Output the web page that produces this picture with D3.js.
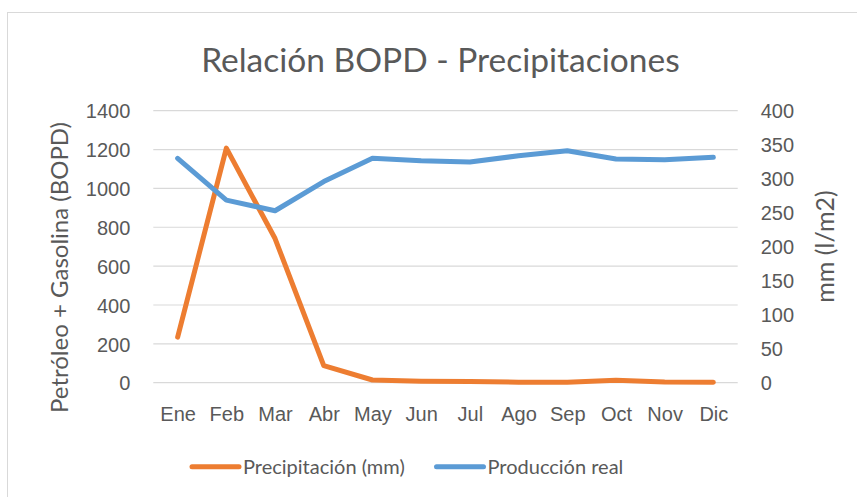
<!DOCTYPE html>
<html>
<head>
<meta charset="utf-8">
<script src="https://cdn.jsdelivr.net/npm/d3@7"></script>
<style>
  html, body { margin: 0; padding: 0; background: #fff; }
  svg { display: block; font-family: Lato, "Open Sans", sans-serif; }
</style>
</head>
<body>
<svg id="chart" width="857" height="497"></svg>
<script>
// chart data
const months = ["Ene", "Feb", "Mar", "Abr", "May", "Jun", "Jul", "Ago", "Sep", "Oct", "Nov", "Dic"];
const produccion = [1155, 940, 885, 1035, 1155, 1142, 1136, 1168, 1194, 1151, 1148, 1160];
const precipitacion = [67, 345, 212, 25, 4, 2.2, 1.8, 0.7, 0.7, 3.7, 1.2, 0.7];
const leftTicks = [0, 200, 400, 600, 800, 1000, 1200, 1400];
const rightTicks = [0, 50, 100, 150, 200, 250, 300, 350, 400];

const svg = d3.select("#chart");
const textColor = "#595959";
const orange = "#ED7D31", blue = "#5B9BD5";

const plotLeft = 153.3, plotRight = 737.7, plotTop = 110.7, plotBottom = 382.7;

// outer border of the chart area
svg.append("rect")
  .attr("x", 7.5).attr("y", 12.5)
  .attr("width", 900).attr("height", 600)
  .attr("fill", "none")
  .attr("stroke", "#d9d9d9")
  .attr("stroke-width", 1);

const x = d3.scalePoint().domain(months).range([plotLeft, plotRight]).padding(0.5);
const yL = d3.scaleLinear().domain([0, 1400]).range([plotBottom, plotTop]);
const yR = d3.scaleLinear().domain([0, 400]).range([plotBottom, plotTop]);

// gridlines
svg.append("g")
  .selectAll("line")
  .data(leftTicks)
  .join("line")
  .attr("x1", plotLeft).attr("x2", plotRight)
  .attr("y1", d => yL(d)).attr("y2", d => yL(d))
  .attr("stroke", "#d9d9d9")
  .attr("stroke-width", 1.2);

// left axis
const axL = svg.append("g")
  .attr("transform", `translate(${plotLeft - 23},0)`)
  .call(d3.axisLeft(yL).tickValues(leftTicks).tickFormat(d3.format("d")).tickSize(0).tickPadding(0));
axL.select(".domain").remove();
axL.selectAll("text").attr("fill", textColor).style("font-size", "20px").attr("dy", "0.36em");

// right axis
const axR = svg.append("g")
  .attr("transform", `translate(${plotRight + 23},0)`)
  .call(d3.axisRight(yR).tickValues(rightTicks).tickFormat(d3.format("d")).tickSize(0).tickPadding(0));
axR.select(".domain").remove();
axR.selectAll("text").attr("fill", textColor).style("font-size", "20px").attr("dy", "0.36em");

// category axis
const axB = svg.append("g")
  .attr("transform", `translate(0,${plotBottom + 31})`)
  .call(d3.axisBottom(x).tickSize(0).tickPadding(0));
axB.select(".domain").remove();
axB.selectAll("text").attr("fill", textColor).style("font-size", "20px").attr("dy", "0.36em");

// lines
const lineL = d3.line().x((d, i) => x(months[i])).y(d => yL(d));
const lineR = d3.line().x((d, i) => x(months[i])).y(d => yR(d));

svg.append("path")
  .datum(precipitacion)
  .attr("d", lineR)
  .attr("fill", "none")
  .attr("stroke", orange)
  .attr("stroke-width", 5)
  .attr("stroke-linejoin", "round")
  .attr("stroke-linecap", "round");

svg.append("path")
  .datum(produccion)
  .attr("d", lineL)
  .attr("fill", "none")
  .attr("stroke", blue)
  .attr("stroke-width", 5)
  .attr("stroke-linejoin", "round")
  .attr("stroke-linecap", "round");

// title
svg.append("text")
  .attr("x", 440.4).attr("y", 71.5)
  .attr("text-anchor", "middle")
  .attr("fill", textColor)
  .style("font-size", "33.5px")
  .text("Relación BOPD - Precipitaciones");

// axis titles
svg.append("text")
  .attr("transform", "translate(68,267.5) rotate(-90)")
  .attr("text-anchor", "middle")
  .attr("fill", textColor)
  .style("font-size", "24px")
  .text("Petróleo + Gasolina (BOPD)");

svg.append("text")
  .attr("transform", "translate(834,246.5) rotate(-90)")
  .attr("text-anchor", "middle")
  .attr("fill", textColor)
  .style("font-size", "25px")
  .text("mm (l/m2)");

// legend
const legendItems = [
  { name: "Precipitación (mm)", color: orange, x: 192 },
  { name: "Producción real", color: blue, x: 436.5 }
];
const lg = svg.append("g").selectAll("g").data(legendItems).join("g")
  .attr("transform", d => `translate(${d.x},466.7)`);
lg.append("line")
  .attr("x1", 0).attr("x2", 47)
  .attr("stroke", d => d.color)
  .attr("stroke-width", 5)
  .attr("stroke-linecap", "round");
lg.append("text")
  .attr("x", 51).attr("dy", "0.36em")
  .attr("fill", textColor)
  .style("font-size", "20px")
  .text(d => d.name);
</script>
</body>
</html>
